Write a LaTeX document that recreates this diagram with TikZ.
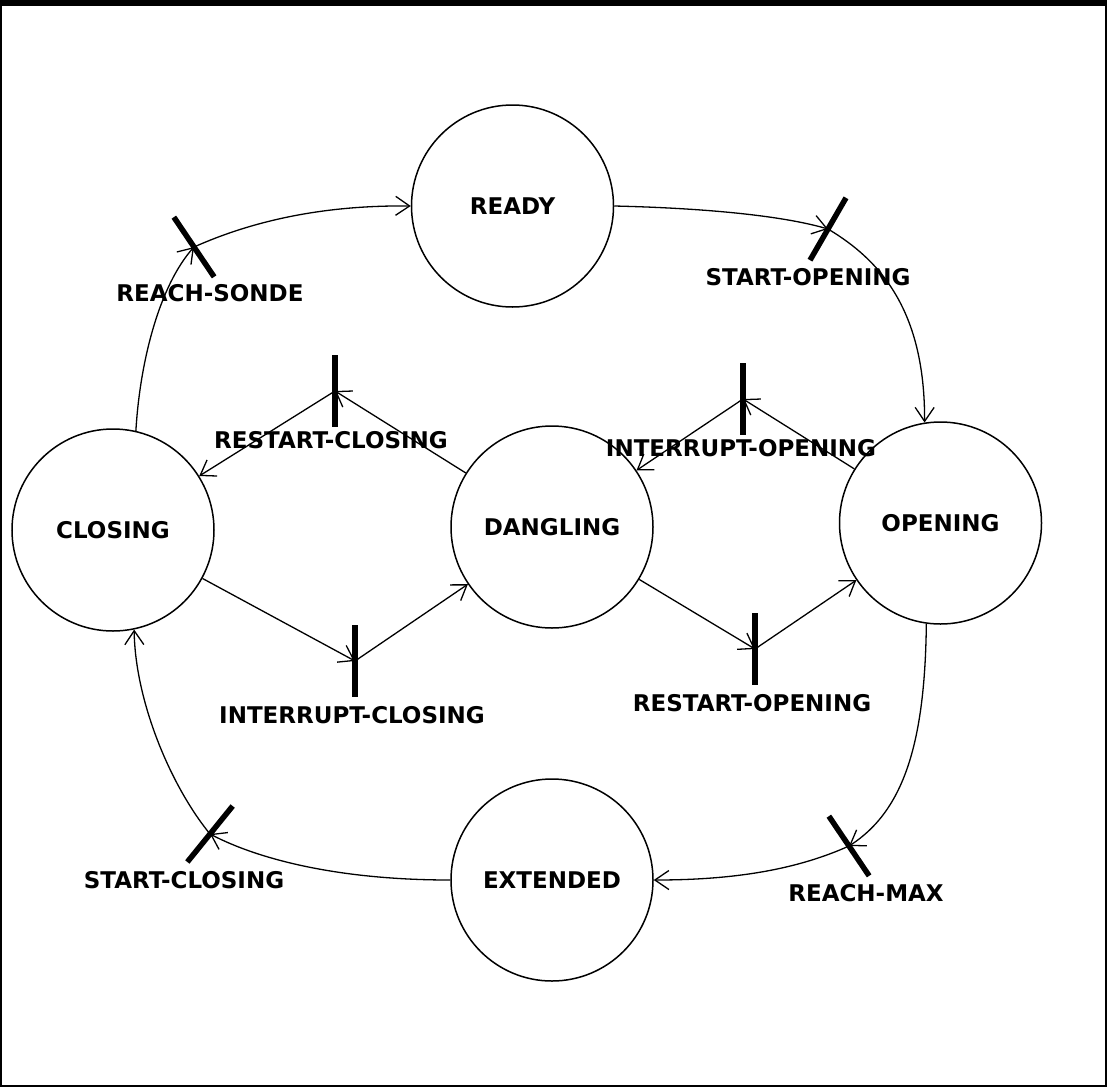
\documentclass[tikz,border=0pt]{standalone}
\usepackage{fontspec}
\setmainfont{DejaVu Sans}
\usetikzlibrary{arrows.meta}
\begin{document}
\begin{tikzpicture}[x=1pt,y=-1pt,
  place/.style={circle, draw, line width=1.5pt, minimum size=202pt, inner sep=0pt,
                font=\fontsize{23}{25}\selectfont\bfseries},
  tbar/.style={rectangle, fill=black, draw=none, minimum width=5.5pt, minimum height=72pt, inner sep=0pt},
  tlabel/.style={font=\fontsize{23}{25}\selectfont\bfseries, inner sep=0pt},
  arc/.style={line width=1.3pt, -{Straight Barb[length=14pt,width=19pt,line width=1.3pt]}}
]
\useasboundingbox (0,0) rectangle (1107,1087);
% frame
\fill[black] (0,0) rectangle (1107,6);
\draw[line width=2pt] (1,1) rectangle (1106,1086);

% places
\node[place] (READY) at (512.5,206) {READY};
\node[place] (OPENING) at (940.5,523) {OPENING};
\node[place] (DANGLING) at (552,527) {DANGLING};
\node[place] (CLOSING) at (113,530) {CLOSING};
\node[place] (EXTENDED) at (552,880) {EXTENDED};

% transitions
\coordinate (RS) at (194,247);
\coordinate (SO) at (828,229);
\coordinate (IO) at (743,399);
\coordinate (RC) at (335,391);
\coordinate (IC) at (355,661);
\coordinate (RO) at (755,649);
\coordinate (RM) at (849,846);
\coordinate (SC) at (210,834);

\node[tbar, rotate=34] (RSbar) at (RS) {};
\node[tbar, rotate=-30] (SObar) at (SO) {};
\node[tbar] (IObar) at (IO) {};
\node[tbar] (RCbar) at (RC) {};
\node[tbar] (ICbar) at (IC) {};
\node[tbar] (RObar) at (RO) {};
\node[tbar, rotate=34] (RMbar) at (RM) {};
\node[tbar, rotate=-39] (SCbar) at (SC) {};

% transition labels
\node[tlabel] (RSlab) at (210,293) {REACH-SONDE};
\node[tlabel] (SOlab) at (808,277) {START-OPENING};
\node[tlabel] (IOlab) at (741,448) {INTERRUPT-OPENING};
\node[tlabel] (RClab) at (331,440) {RESTART-CLOSING};
\node[tlabel] (IClab) at (352,715) {INTERRUPT-CLOSING};
\node[tlabel] (ROlab) at (752,703) {RESTART-OPENING};
\node[tlabel] (RMlab) at (866,893) {REACH-MAX};
\node[tlabel] (SClab) at (184,880) {START-CLOSING};

% outer cycle
\draw[arc] (CLOSING.77) .. controls (140,360) and (160,285) .. (RS);
\draw[arc] (RS) .. controls (250,222) and (320,205) .. (READY.180);
\draw[arc] (READY.0) .. controls (700,208) and (780,215) .. (SO);
\draw[arc] (SO) .. controls (880,260) and (925,310) .. (OPENING.99);
\draw[arc] (OPENING.262) .. controls (925,740) and (905,810) .. (RM);
\draw[arc] (RM) .. controls (800,868) and (740,880) .. (EXTENDED.0);
\draw[arc] (EXTENDED.180) .. controls (340,880) and (260,860) .. (SC);
\draw[arc] (SC) .. controls (170,785) and (135,700) .. (CLOSING.-78);

% inner arcs
\draw[arc] (OPENING) -- (IO);
\draw[arc] (IO) -- (DANGLING);
\draw[arc] (DANGLING) -- (RC);
\draw[arc] (RC) -- (CLOSING);
\draw[arc] (CLOSING) -- (IC);
\draw[arc] (IC) -- (DANGLING);
\draw[arc] (DANGLING) -- (RO);
\draw[arc] (RO) -- (OPENING);
\end{tikzpicture}
\end{document}
